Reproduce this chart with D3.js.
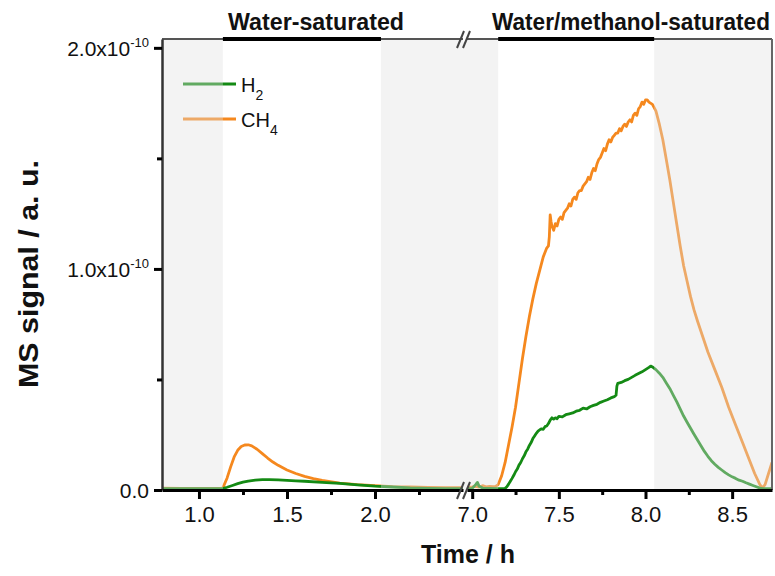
<!DOCTYPE html>
<html><head><meta charset="utf-8">
<script src="https://cdn.jsdelivr.net/npm/d3@7"></script>
<style>
html,body{margin:0;padding:0;background:#fff;}
svg{display:block;font-family:"Liberation Sans",Arial,sans-serif;}
</style></head>
<body>
<svg id="chart" width="775" height="576"></svg>
<script>
// ---- data (signal in units of 1e-10, time in h) ----
const h2Time = [0.79,1.0,1.135,1.16,1.19,1.22,1.25,1.28,1.32,1.36,1.40,1.45,1.50,1.55,1.60,1.70,1.80,1.90,2.00,2.10,2.20,2.30,2.40,2.50,
 6.97,7.00,7.02,7.03,7.04,7.06,7.10,7.15,7.19,7.20,7.21,7.22,7.23,7.24,7.25,7.26,7.27,7.28,7.29,7.30,7.31,7.32,7.33,7.34,7.35,7.36,7.37,7.38,7.39,7.40,7.41,7.42,7.43,7.44,7.45,7.46,7.47,7.48,7.49,7.50,7.52,7.54,7.56,7.58,7.60,7.62,7.64,7.66,7.68,7.70,7.72,7.74,7.76,7.78,7.80,7.82,7.83,7.835,7.84,7.86,7.88,7.90,7.92,7.94,7.96,7.98,8.00,8.02,8.03,8.04,8.06,8.08,8.10,8.12,8.14,8.16,8.18,8.20,8.22,8.24,8.26,8.28,8.30,8.32,8.34,8.36,8.38,8.40,8.42,8.44,8.46,8.48,8.50,8.52,8.54,8.56,8.58,8.60,8.62,8.64,8.66,8.68,8.73];
const h2Signal = [0.002,0.002,0.002,0.008,0.016,0.024,0.031,0.036,0.040,0.042,0.042,0.041,0.039,0.037,0.035,0.030,0.025,0.019,0.013,0.009,0.005,0.003,0.002,0.002,
 0.002,0.003,0.020,0.030,0.012,0.004,0.003,0.002,0.003,0.010,0.022,0.035,0.048,0.062,0.078,0.090,0.108,0.120,0.137,0.150,0.168,0.180,0.197,0.210,0.228,0.240,0.252,0.262,0.268,0.272,0.270,0.282,0.285,0.296,0.312,0.322,0.316,0.322,0.318,0.328,0.326,0.336,0.340,0.344,0.352,0.356,0.366,0.362,0.372,0.378,0.383,0.392,0.398,0.404,0.412,0.418,0.424,0.465,0.478,0.482,0.490,0.496,0.505,0.514,0.522,0.530,0.540,0.550,0.556,0.552,0.540,0.524,0.505,0.480,0.455,0.425,0.395,0.362,0.330,0.302,0.275,0.248,0.222,0.196,0.170,0.148,0.128,0.112,0.098,0.086,0.074,0.064,0.055,0.048,0.040,0.035,0.028,0.022,0.016,0.010,0.004,0.002,0.002];

const ch4Time = [0.79,0.9,1.0,1.1,1.135,1.16,1.18,1.20,1.22,1.24,1.26,1.28,1.30,1.33,1.36,1.39,1.42,1.45,1.50,1.55,1.60,1.65,1.70,1.80,1.90,2.00,2.10,2.20,2.30,2.40,2.50,
 6.97,7.00,7.02,7.04,7.06,7.08,7.10,7.12,7.135,7.15,7.17,7.19,7.21,7.23,7.25,7.27,7.29,7.31,7.33,7.35,7.37,7.39,7.41,7.43,7.44,7.445,7.45,7.455,7.46,7.47,7.48,7.49,7.50,7.51,7.52,7.53,7.54,7.55,7.56,7.57,7.58,7.59,7.60,7.61,7.62,7.63,7.64,7.65,7.66,7.67,7.68,7.69,7.70,7.71,7.72,7.73,7.74,7.75,7.76,7.77,7.78,7.79,7.80,7.81,7.82,7.83,7.84,7.85,7.86,7.87,7.88,7.89,7.90,7.91,7.92,7.93,7.94,7.95,7.96,7.97,7.98,7.99,8.00,8.01,8.02,8.04,8.06,8.08,8.10,8.12,8.14,8.16,8.18,8.20,8.22,8.24,8.26,8.28,8.30,8.33,8.36,8.40,8.44,8.48,8.52,8.56,8.60,8.63,8.66,8.675,8.69,8.71,8.73];
const ch4Signal = [0.004,0.003,0.003,0.003,0.004,0.05,0.10,0.145,0.175,0.192,0.199,0.200,0.195,0.180,0.160,0.140,0.122,0.107,0.086,0.070,0.057,0.047,0.039,0.027,0.020,0.015,0.011,0.009,0.007,0.006,0.006,
 0.008,0.010,0.012,0.009,0.015,0.010,0.012,0.011,0.012,0.02,0.06,0.12,0.20,0.28,0.37,0.48,0.59,0.69,0.78,0.86,0.93,0.99,1.05,1.09,1.10,1.14,1.24,1.21,1.19,1.17,1.20,1.19,1.22,1.23,1.22,1.25,1.26,1.27,1.29,1.28,1.31,1.32,1.31,1.34,1.35,1.35,1.37,1.38,1.39,1.41,1.40,1.43,1.45,1.44,1.47,1.49,1.50,1.52,1.54,1.53,1.56,1.58,1.57,1.59,1.60,1.61,1.61,1.63,1.62,1.64,1.65,1.64,1.66,1.67,1.66,1.69,1.70,1.69,1.72,1.73,1.75,1.74,1.76,1.76,1.75,1.74,1.71,1.65,1.58,1.49,1.40,1.30,1.20,1.10,1.01,0.94,0.87,0.81,0.76,0.69,0.62,0.54,0.46,0.37,0.29,0.21,0.13,0.07,0.02,0.005,0.02,0.07,0.12];

const seriesNames = ["H2","CH4"];
const seriesColors = ["#148a14","#f5881e"];
const phaseLabels = ["Water-saturated","Water/methanol-saturated"];
const segmentDomains = [[0.79,2.5],[6.97,8.73]];
const majorTicks = [[1.0,1.5,2.0],[7.0,7.5,8.0,8.5]];
const minorTicks = [[1.25,1.75,2.25],[7.25,7.75,8.25]];
const yMajor = [0,1,2];
const yMinor = [0.5,1.5];
const shadedSpans = [[0.79,1.136,0],[2.034,2.5,0],[6.97,7.15,1],[8.05,8.73,1]];
const phaseSpans = [[1.136,2.034,0],[7.15,8.05,1]];

// ---- layout ----
const svg = d3.select("#chart");
const L = 162, R = 772, T = 39, B = 490;
const xs = [d3.scaleLinear(segmentDomains[0],[L,463]), d3.scaleLinear(segmentDomains[1],[467,R])];
const y = d3.scaleLinear([0,2.04],[B,T]);
const segOf = t => t < 5 ? 0 : 1;

svg.append("rect").attr("x",L).attr("y",T).attr("width",R-L).attr("height",B-T).attr("fill","#fff");

const defs = svg.append("defs");
xs.forEach((s,i)=>{
  defs.append("clipPath").attr("id","clip"+i).append("rect")
    .attr("x",s.range()[0]).attr("y",T).attr("width",s.range()[1]-s.range()[0]).attr("height",B-T+2);
});

function drawSeries(times, vals, color){
  [0,1].forEach(seg=>{
    const pts = times.map((t,i)=>[t,vals[i]]).filter(p=>segOf(p[0])===seg);
    const line = d3.line().x(p=>xs[seg](p[0])).y(p=>y(p[1])-1);
    svg.append("path").attr("d",line(pts)).attr("fill","none")
      .attr("stroke",color).attr("stroke-width",2.8).attr("stroke-linejoin","round")
      .attr("clip-path","url(#clip"+seg+")");
  });
}
drawSeries(ch4Time, ch4Signal, seriesColors[1]);
drawSeries(h2Time, h2Signal, seriesColors[0]);

// legend
const legY = [84,119];
seriesNames.forEach((n,i)=>{
  svg.append("line").attr("x1",183).attr("x2",236).attr("y1",legY[i]).attr("y2",legY[i])
    .attr("stroke",seriesColors[i]).attr("stroke-width",2.8);
  const tx = svg.append("text").attr("x",241).attr("y",legY[i]+7.5).attr("font-size",20).attr("fill","#111");
  const m = n.match(/^([A-Z]+)(\d)$/);
  tx.append("tspan").text(m[1]);
  tx.append("tspan").attr("dy",8).attr("font-size",14).text(m[2]);
});

// shaded overlays (on top, semi-transparent)
shadedSpans.forEach(s=>{
  let x0 = xs[s[2]](s[0]), x1 = xs[s[2]](s[1]);
  if (s[2]===0 && s[1]===2.5) x1 = xs[1](6.97);
  svg.append("rect").attr("x",x0).attr("y",T).attr("width",x1-x0).attr("height",B-T)
    .attr("fill","rgb(224,224,224)").attr("opacity",0.38);
});

// frame
svg.append("line").attr("x1",L).attr("x2",R).attr("y1",T).attr("y2",T).attr("stroke","#555").attr("stroke-width",2);
svg.append("line").attr("x1",R).attr("x2",R).attr("y1",T).attr("y2",B).attr("stroke","#666").attr("stroke-width",2);
phaseSpans.forEach(p=>{
  svg.append("line").attr("x1",xs[p[2]](p[0])).attr("x2",xs[p[2]](p[1])).attr("y1",T).attr("y2",T)
    .attr("stroke","#000").attr("stroke-width",4);
});
// gap at break on top border
svg.append("rect").attr("x",463).attr("y",T-3).attr("width",4).attr("height",6).attr("fill","#fff");

// y axis
const yAx = svg.append("g").attr("transform",`translate(${L},0)`)
  .call(d3.axisLeft(y).tickValues(yMajor).tickSize(8).tickSizeOuter(0).tickFormat(""));
yAx.select(".domain").attr("stroke","#333").attr("stroke-width",2.5);
yAx.selectAll(".tick line").attr("stroke","#000").attr("stroke-width",3);
yAx.selectAll(".tick").each(function(d){
  const t = d3.select(this).append("text").attr("x",-13).attr("dy","0.36em")
    .attr("text-anchor","end").attr("font-size",21).attr("fill","#111");
  if (d===0) { t.text("0.0"); }
  else {
    t.append("tspan").text(d.toFixed(1)+"x10");
    t.append("tspan").attr("dy",-9).attr("font-size",13).text("-10");
  }
});
const yMin = svg.append("g").attr("transform",`translate(${L},0)`)
  .call(d3.axisLeft(y).tickValues(yMinor).tickSize(5).tickFormat(""));
yMin.select(".domain").remove();
yMin.selectAll(".tick line").attr("stroke","#000").attr("stroke-width",3);

// x axes
xs.forEach((s,i)=>{
  const g = svg.append("g").attr("transform",`translate(0,${B})`)
    .call(d3.axisBottom(s).tickValues(majorTicks[i]).tickSize(9).tickSizeOuter(0).tickFormat(d3.format(".1f")));
  g.select(".domain").attr("stroke","#000").attr("stroke-width",2.8);
  g.selectAll(".tick line").attr("stroke","#000").attr("stroke-width",3);
  g.selectAll(".tick text").attr("font-size",22).attr("fill","#111").attr("y",16).attr("font-family","Liberation Sans, Arial");
  const gm = svg.append("g").attr("transform",`translate(0,${B})`)
    .call(d3.axisBottom(s).tickValues(minorTicks[i]).tickSize(5).tickFormat(""));
  gm.select(".domain").remove();
  gm.selectAll(".tick line").attr("stroke","#000").attr("stroke-width",3);
});

// break marks
[B,T].forEach(yy=>{
  [0,6].forEach(dx=>{
    svg.append("line").attr("x1",457+dx).attr("y1",yy+9).attr("x2",464+dx).attr("y2",yy-8)
      .attr("stroke","#444").attr("stroke-width",2);
  });
});

// titles
svg.append("text").attr("x",316).attr("y",30)
  .attr("text-anchor","middle").attr("font-weight","bold").attr("font-size",23)
  .attr("textLength",176).attr("lengthAdjust","spacingAndGlyphs").attr("fill","#111").text(phaseLabels[0]);
svg.append("text").attr("x",631).attr("y",30)
  .attr("text-anchor","middle").attr("font-weight","bold").attr("font-size",23)
  .attr("textLength",278).attr("lengthAdjust","spacingAndGlyphs").attr("fill","#111").text(phaseLabels[1]);

svg.append("text").attr("x",468).attr("y",563).attr("text-anchor","middle")
  .attr("font-weight","bold").attr("font-size",25).attr("fill","#111").text("Time / h");
svg.append("text").attr("transform","translate(38,274) rotate(-90)").attr("text-anchor","middle")
  .attr("font-weight","bold").attr("font-size",28).attr("textLength",228).attr("lengthAdjust","spacingAndGlyphs")
  .attr("fill","#111").text("MS signal / a. u.");
</script>
</body></html>
